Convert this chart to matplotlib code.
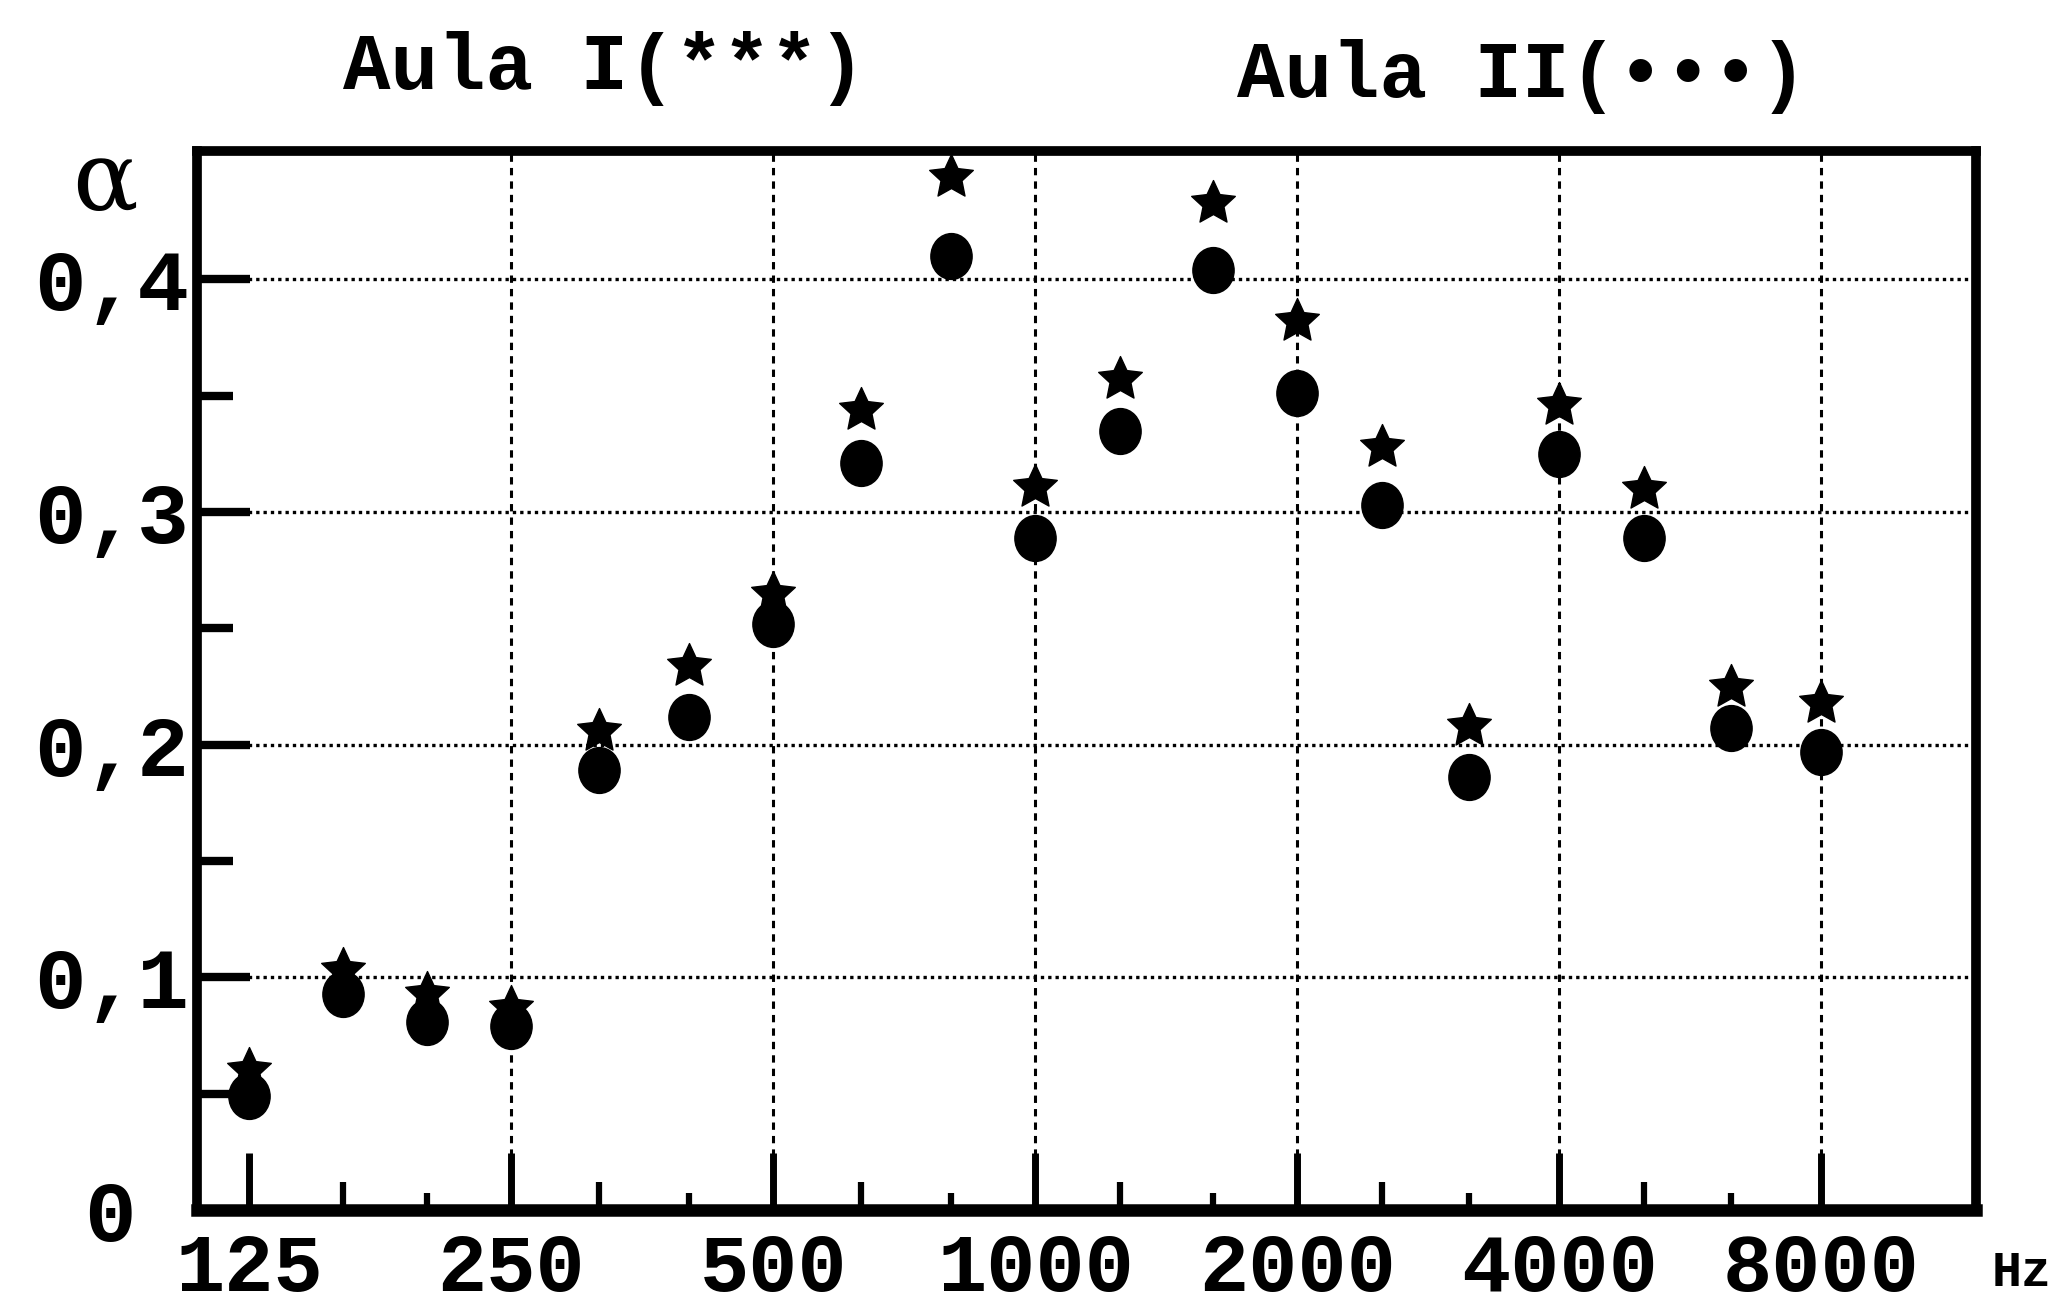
import matplotlib
matplotlib.use("Agg")
import matplotlib.pyplot as plt
from matplotlib.path import Path
from matplotlib.transforms import Affine2D
from matplotlib.ticker import NullFormatter

# third-octave band centres (Hz)
freqs = [125, 160, 200, 250, 315, 400, 500, 630, 800, 1000,
         1250, 1600, 2000, 2500, 3150, 4000, 5000, 6300, 8000]
# absorption coefficient, Aula I (stars) and Aula II (dots)
aula1 = [0.060, 0.103, 0.093, 0.087, 0.206, 0.234, 0.265, 0.344, 0.444, 0.311,
         0.357, 0.433, 0.382, 0.328, 0.208, 0.346, 0.310, 0.225, 0.218]
aula2 = [0.049, 0.093, 0.081, 0.079, 0.189, 0.212, 0.252, 0.321, 0.410, 0.289,
         0.335, 0.404, 0.351, 0.303, 0.186, 0.325, 0.289, 0.207, 0.197]

octaves = [125, 250, 500, 1000, 2000, 4000, 8000]
octave_labels = ["125", "250", "500", "1000", "2000", "4000", "8000"]
thirds = [f for f in freqs if f not in octaves]
grid_freqs = [250, 500, 1000, 2000, 4000, 8000]
yticks = [0, 0.1, 0.2, 0.3, 0.4]
ytick_labels = ["0 ", "0,1", "0,2", "0,3", "0,4"]
yminor = [0.05, 0.15, 0.25, 0.35]

mono = ["Liberation Mono", "DejaVu Sans Mono"]

fig = plt.figure(figsize=(20.59, 13.15), dpi=100)
ax = fig.add_axes([0.0957, 0.0798, 0.864, 0.805])

# marker shapes: slightly tall dot, stubby star
dot = Path.unit_circle().transformed(Affine2D().scale(0.9, 1.0))
star = Path.unit_regular_star(5, 0.48)

ax.plot(freqs, aula2, linestyle="none", marker=dot, markersize=33,
        color="black", zorder=4)
ax.plot(freqs, aula1, linestyle="none", marker=star, markersize=33,
        color="black", zorder=5)

ax.set_xscale("log", base=2)
ax.set_xlim(125 * 2 ** (-0.60 / 3), 8000 * 2 ** (1.77 / 3))
ax.set_ylim(0, 0.455)

# grid
for f in grid_freqs:
    ax.axvline(f, color="black", linewidth=2.2, linestyle=(0, (2.4, 2.0)), zorder=1)
for y in yticks[1:]:
    ax.axhline(y, color="black", linewidth=2.4, linestyle=(0, (1.0, 1.2)), zorder=1)

# ticks
ax.set_xticks(octaves)
ax.set_xticklabels(octave_labels)
ax.set_xticks(thirds, minor=True)
ax.xaxis.set_minor_formatter(NullFormatter())
ax.set_yticks(yticks)
ax.set_yticklabels(ytick_labels)
ax.set_yticks(yminor, minor=True)

ax.tick_params(axis="x", which="major", direction="in", length=41, width=5,
               pad=16, top=False)
ax.tick_params(axis="x", which="minor", direction="in", length=16, width=4.5,
               top=False)
ax.tick_params(axis="y", which="major", direction="in", length=38, width=6,
               pad=6, right=False)
ax.tick_params(axis="y", which="minor", direction="in", length=26, width=6,
               right=False)
for i, t in enumerate(ax.xaxis.get_minor_ticks()):
    t.tick1line.set_markersize(20 if i % 2 == 0 else 12)

for lab in ax.get_xticklabels():
    lab.set_family(mono)
    lab.set_fontweight("bold")
    lab.set_fontsize(59)
for lab in ax.get_yticklabels():
    lab.set_family(mono)
    lab.set_fontweight("bold")
    lab.set_fontsize(62)

for side in ["left", "right", "top"]:
    ax.spines[side].set_linewidth(7)
ax.spines["bottom"].set_linewidth(9)

# titles and axis annotations
ax.text(0.229, 1.078, "Aula I(***)", transform=ax.transAxes, ha="center",
        va="center", family=mono, fontweight="bold", fontsize=57)
ax.text(0.745, 1.071, "Aula II(•••)", transform=ax.transAxes, ha="center",
        va="center", family=mono, fontweight="bold", fontsize=57)
fig.text(0.051, 0.861, "α", ha="center", va="center", family="DejaVu Serif",
         fontsize=70)
fig.text(0.982, 0.032, "Hz", ha="center", va="center", family=mono,
         fontweight="bold", fontsize=36)

fig.savefig("out.png", dpi=100)
